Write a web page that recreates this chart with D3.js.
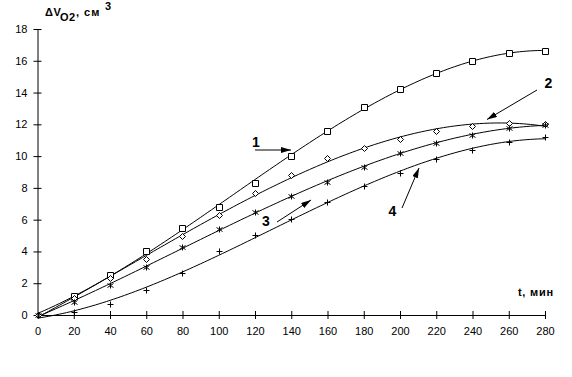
<!DOCTYPE html>
<html><head><meta charset="utf-8">
<script src="https://cdn.jsdelivr.net/npm/d3@7"></script>
<style>body{margin:0;background:#fff}svg{display:block}text{font-family:Arial,"Liberation Sans",sans-serif}</style>
</head><body>
<script>
const times = [0,20,40,60,80,100,120,140,160,180,200,220,240,260,280];
const series1 = [0,1.2,2.5,4.0,5.5,6.8,8.3,10.0,11.6,13.1,14.2,15.2,16.0,16.5,16.6];
const series2 = [0,1.1,2.3,3.55,5.0,6.3,7.7,8.8,9.85,10.5,11.05,11.55,11.9,12.1,12.0];
const series3 = [0,0.8,1.9,3.0,4.25,5.4,6.5,7.5,8.35,9.3,10.2,10.85,11.35,11.75,11.95];
const series4 = [0,0.2,0.7,1.55,2.65,4.0,5.05,6.05,7.1,8.1,8.95,9.8,10.4,10.9,11.2];
const xTicks = [0,20,40,60,80,100,120,140,160,180,200,220,240,260,280];
const yTicks = [0,2,4,6,8,10,12,14,16,18];
const curveLabels = ["1","2","3","4"];

const W=572,H=377;
const svg=d3.select("body").append("svg").attr("width",W).attr("height",H);
const x=d3.scaleLinear().domain([0,280]).range([37.5,545]);
const y=d3.scaleLinear().domain([0,18]).range([315,29]);

// axes
const ax=svg.append("g").attr("transform","translate(0,315)")
  .call(d3.axisBottom(x).tickValues(xTicks).tickSize(4).tickSizeOuter(0).tickPadding(8));
ax.selectAll(".tick line").attr("y1",-4).attr("y2",4);
const ay=svg.append("g").attr("transform","translate(37.5,0)")
  .call(d3.axisLeft(y).tickValues(yTicks).tickSize(4).tickSizeOuter(0).tickPadding(6));
ay.selectAll(".tick line").attr("x1",-4).attr("x2",4);
svg.selectAll(".domain,.tick line").attr("stroke","#000");
svg.selectAll(".tick text").attr("font-size",11).attr("fill","#000").attr("font-family","Arial, Liberation Sans, sans-serif");
ax.selectAll(".tick").filter(d=>d===0).select("line").remove();

// polynomial least squares fit (cubic trendline)
function polyfit(xs,ys,deg){
  const n=deg+1;const A=[];for(let i=0;i<n;i++){A.push(new Array(n+1).fill(0));}
  xs.forEach((xv,k)=>{const u=xv/100;for(let i=0;i<n;i++){for(let j=0;j<n;j++)A[i][j]+=Math.pow(u,i+j);A[i][n]+=Math.pow(u,i)*ys[k];}});
  for(let i=0;i<n;i++){let p=i;for(let r=i+1;r<n;r++)if(Math.abs(A[r][i])>Math.abs(A[p][i]))p=r;[A[i],A[p]]=[A[p],A[i]];
    for(let r=0;r<n;r++){if(r===i)continue;const f=A[r][i]/A[i][i];for(let c=i;c<=n;c++)A[r][c]-=f*A[i][c];}}
  const co=A.map((row,i)=>row[n]/row[i]);
  return t=>co.reduce((s,c,i)=>s+c*Math.pow(t/100,i),0);
}
const line=d3.line().x(d=>x(d[0])).y(d=>y(d[1]));
const allSeries=[series1,series2,series3,series4];
allSeries.forEach(s=>{
  const f=polyfit(times,s,3);
  const pts=d3.range(0,280.01,2).map(t=>[t,f(t)]);
  svg.append("path").attr("d",line(pts)).attr("fill","none").attr("stroke","#000").attr("stroke-width",1);
});

// markers
function marker(type,cx,cy){
  const g=svg.append("path").attr("fill","none").attr("stroke","#000").attr("stroke-width",1);
  let d="";
  if(type===0){d=`M${cx-3},${cy-3}h6v6h-6z`;g.attr("fill","#fff");}
  else if(type===1){d=`M${cx},${cy-3}L${cx+3},${cy}L${cx},${cy+3}L${cx-3},${cy}Z`;g.attr("fill","#fff");}
  else if(type===2){d=`M${cx},${cy-3}V${cy+3}M${cx-3},${cy-2}L${cx+3},${cy+2}M${cx-3},${cy+2}L${cx+3},${cy-2}`;}
  else {d=`M${cx-3},${cy}H${cx+3}M${cx},${cy-3}V${cy+3}`;}
  g.attr("d",d);
}
allSeries.forEach((s,k)=>{
  s.forEach((v,i)=>{
    if(times[i]===0 && (k===0||k===3)) return;
    marker(k,Math.round(x(times[i]))+0.5,Math.round(y(v))+0.5);
  });
});

// axis titles
const tfont={size:11};
svg.append("text").attr("x",45).attr("y",16).attr("font-size",tfont.size).attr("font-weight","bold").attr("letter-spacing",0.5).text("ΔV");
svg.append("text").attr("x",60).attr("y",21).attr("font-size",tfont.size).attr("font-weight","bold").attr("letter-spacing",0.5).text("O2");
svg.append("text").attr("x",76).attr("y",16).attr("font-size",tfont.size).attr("font-weight","bold").attr("letter-spacing",1).text(", см");
svg.append("text").attr("x",105).attr("y",10).attr("font-size",tfont.size).attr("font-weight","bold").text("3");
svg.append("text").attr("x",554).attr("y",296).attr("text-anchor","end").attr("font-size",11).attr("font-weight","bold").attr("letter-spacing",0.8).text("t, мин");

// curve labels and arrows
svg.append("defs").append("marker").attr("id","ah").attr("viewBox","0 0 10 6").attr("refX",10).attr("refY",3)
  .attr("markerWidth",10).attr("markerHeight",6).attr("markerUnits","userSpaceOnUse").attr("orient","auto")
  .append("path").attr("d","M0,0L10,3L0,6Z").attr("fill","#000");
const labelPos=[[256,147],[548.5,88],[266,226],[392.5,216]];
const arrows=[[255,150,291,150],[537,90,487,119.5],[277,222,311,200],[402,208,419,168]];
curveLabels.forEach((l,i)=>{
  svg.append("text").attr("x",labelPos[i][0]).attr("y",labelPos[i][1]).attr("text-anchor","middle")
    .attr("font-size",14).attr("font-weight","bold").text(l);
  const a=arrows[i];
  svg.append("line").attr("x1",a[0]).attr("y1",a[1]).attr("x2",a[2]).attr("y2",a[3])
    .attr("stroke","#000").attr("stroke-width",1).attr("marker-end","url(#ah)");
});
</script>
</body></html>
